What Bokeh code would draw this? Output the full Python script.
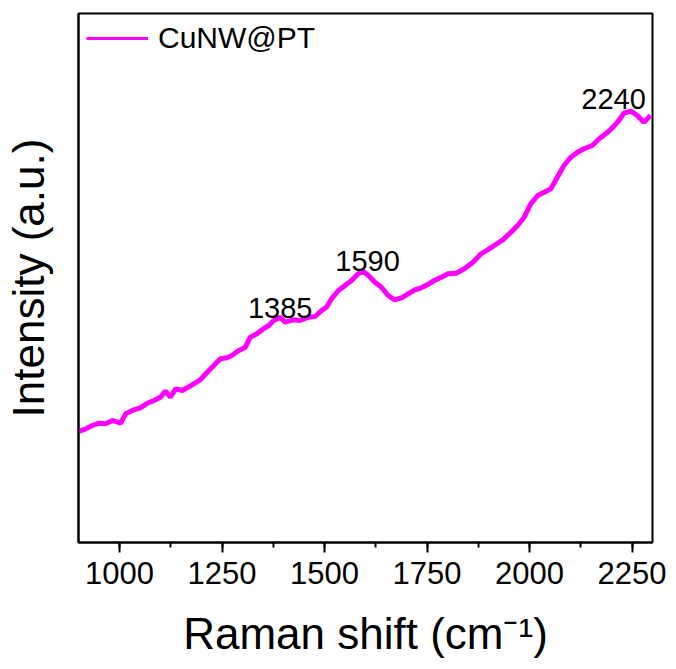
from bokeh.plotting import figure
from bokeh.models import Range1d, SingleIntervalTicker, Label, Legend, LegendItem
from bokeh.embed import file_html
from bokeh.resources import INLINE

# Raman shift (cm-1) and intensity (a.u.)
shift = [902, 918, 934, 950, 966, 983, 1003, 1015, 1035, 1051, 1068, 1084, 1100,
         1112, 1124, 1137, 1153, 1165, 1181, 1197, 1214, 1230, 1246, 1262, 1274,
         1291, 1307, 1319, 1335, 1351, 1364, 1376, 1392, 1404, 1424, 1440, 1461,
         1477, 1493, 1505, 1517, 1534, 1550, 1566, 1582, 1594, 1607, 1623, 1639,
         1655, 1671, 1688, 1704, 1720, 1736, 1752, 1768, 1785, 1801, 1821, 1841,
         1862, 1882, 1898, 1914, 1935, 1955, 1971, 1987, 2003, 2020, 2036, 2052,
         2068, 2084, 2101, 2117, 2133, 2153, 2170, 2186, 2202, 2218, 2230, 2247,
         2263, 2279, 2295]
intensity = [111.3, 113.7, 117.0, 119.3, 118.7, 122.0, 119.3, 128.7, 132.7, 134.7,
             139.3, 142.0, 145.3, 151.3, 145.3, 153.7, 152.0, 154.7, 158.7, 162.7,
             170.3, 177.0, 183.7, 184.7, 187.0, 192.0, 195.3, 205.3, 208.7, 213.7,
             217.0, 222.0, 225.3, 220.3, 222.7, 222.0, 225.3, 226.0, 232.0, 235.3,
             243.7, 252.0, 257.0, 262.0, 268.7, 271.3, 267.0, 260.3, 255.3, 247.0,
             242.7, 244.7, 248.7, 252.7, 254.7, 258.0, 262.0, 265.3, 268.7, 269.3,
             273.7, 280.3, 288.7, 292.7, 297.0, 302.7, 310.3, 317.0, 325.3, 338.7,
             347.0, 350.3, 353.7, 365.3, 377.0, 385.3, 390.3, 393.7, 397.0, 403.7,
             408.7, 414.7, 422.0, 429.3, 431.3, 427.0, 420.3, 427.0]

peak_labels = ["1385", "1590", "2240"]
series_name = "CuNW@PT"
x_title = "Raman shift (cm\u207b\u00b9)"
y_title = "Intensity (a.u.)"

FONT = "Liberation Sans"
MAGENTA = "#FF00FF"

p = figure(width=676, height=669, output_backend="svg", toolbar_location=None,
           x_range=Range1d(900, 2300), y_range=Range1d(0, 529),
           min_border_left=76, min_border_right=24, min_border_top=13,
           min_border_bottom=127)
p.background_fill_color = "white"
p.border_fill_color = "white"
p.outline_line_color = "black"
p.outline_line_width = 2
p.grid.visible = False

# thin stroke (also used as legend swatch) under the thick data stroke
thin = p.line(shift, intensity, line_color=MAGENTA, line_width=3)
p.line(shift, intensity, line_color=MAGENTA, line_width=5)

# x axis
xa = p.xaxis[0]
xa.ticker = SingleIntervalTicker(interval=250, num_minor_ticks=2)
xa.axis_line_width = 2
xa.major_tick_line_width = 2
xa.minor_tick_line_width = 2
xa.major_tick_in = 0
xa.major_tick_out = 10
xa.minor_tick_in = 0
xa.minor_tick_out = 5
xa.major_label_text_font = FONT
xa.major_label_text_font_size = "31px"
xa.major_label_text_color = "black"
xa.major_label_standoff = 9
xa.axis_label = x_title
xa.axis_label_text_font = FONT
xa.axis_label_text_font_size = "44px"
xa.axis_label_text_font_style = "normal"
xa.axis_label_text_color = "black"
xa.axis_label_standoff = 22

# y axis
ya = p.yaxis[0]
ya.axis_line_width = 2
ya.major_tick_line_color = None
ya.minor_tick_line_color = None
ya.major_label_text_font_size = "0px"
ya.major_label_text_color = None
ya.axis_label = y_title
ya.axis_label_text_font = FONT
ya.axis_label_text_font_size = "44px"
ya.axis_label_text_font_style = "normal"
ya.axis_label_text_color = "black"
ya.axis_label_standoff = 20

# peak annotations
peak_pos = [(1392, 235), (1605, 282), (2205, 444)]
for txt, (px, py) in zip(peak_labels, peak_pos):
    p.add_layout(Label(x=px, y=py, text=txt, text_align="center",
                       text_baseline="alphabetic", text_font=FONT,
                       text_font_size="29px", text_color="black"))

legend = Legend(items=[LegendItem(label=series_name, renderers=[thin])],
                location="top_left", margin=8, padding=11,
                border_line_color=None, background_fill_alpha=0,
                glyph_width=62, label_standoff=10,
                label_text_font=FONT, label_text_font_size="30px",
                label_text_color="black")
p.add_layout(legend)

open("out.html", "w").write(file_html(p, INLINE))
